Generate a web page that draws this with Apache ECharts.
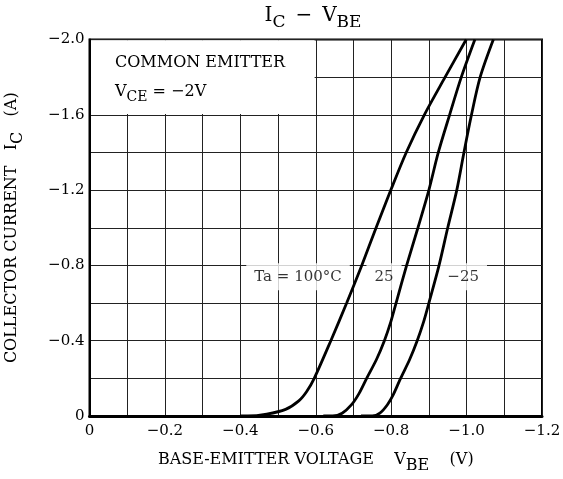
<!DOCTYPE html>
<html>
<head>
<meta charset="utf-8">
<title>IC - VBE</title>
<script src="https://cdn.jsdelivr.net/npm/echarts@6/dist/echarts.min.js"></script>
<style>
html, body { margin: 0; padding: 0; background: #fff; }
#main { width: 563px; height: 479px; }
</style>
</head>
<body>
<div id="main"></div>
<script>
// VBE (V), IC (A)
var curve100 = [[-0.40, 0], [-0.42, 0], [-0.47, -0.01], [-0.52, -0.035], [-0.555, -0.08], [-0.576, -0.13],
	[-0.596, -0.2], [-0.64, -0.4], [-0.682, -0.6], [-0.722, -0.8], [-0.76, -1.0], [-0.799, -1.2],
	[-0.84, -1.4], [-0.888, -1.6], [-0.943, -1.8], [-0.999, -2.0]];
var curve25 = [[-0.62, 0], [-0.645, 0], [-0.67, -0.015], [-0.695, -0.06], [-0.715, -0.12], [-0.735, -0.2],
	[-0.761, -0.3], [-0.782, -0.4], [-0.799, -0.5], [-0.813, -0.6], [-0.841, -0.8], [-0.871, -1.0],
	[-0.90, -1.2], [-0.925, -1.4], [-0.955, -1.6], [-0.986, -1.8], [-1.022, -2.0]];
var curveM25 = [[-0.72, 0], [-0.75, 0], [-0.77, -0.015], [-0.79, -0.06], [-0.806, -0.115], [-0.825, -0.2],
	[-0.849, -0.3], [-0.869, -0.4], [-0.886, -0.5], [-0.9, -0.6], [-0.927, -0.8], [-0.95, -1.0],
	[-0.974, -1.2], [-0.993, -1.4], [-1.013, -1.6], [-1.036, -1.8], [-1.071, -2.0]];

var curveLabels = ['Ta = 100°C', '25', '−25'];
var curveLabelPos = [[-0.553, -0.74], [-0.781, -0.74], [-0.991, -0.74]];

var FONT = 'DejaVu Serif';

function fmtNum(v, step) {
	var r = Math.round(v * 10);
	if (r % step) return '';
	if (r === 0) return '0';
	return '−' + Math.abs(r / 10).toFixed(1);
}

var myChart = echarts.init(document.getElementById('main'));

function curve(data) {
	return {
		type: 'line',
		data: data,
		smooth: 0.3,
		symbol: 'none',
		z: 4,
		lineStyle: { color: '#000', width: 2.8 }
	};
}

myChart.setOption({
	animation: false,
	backgroundColor: '#fff',
	textStyle: { fontFamily: FONT, color: '#000' },
	grid: {
		left: 89.5,
		right: 21,
		top: 39.5,
		bottom: 63,
		outerBoundsMode: 'none',
		containLabel: false,
		show: true,
		borderColor: '#000',
		borderWidth: 2,
		backgroundColor: 'transparent'
	},
	graphic: [
		{
			type: 'text',
			x: 313,
			y: 6,
			z: 10,
			style: {
				text: '{m|I}{s|C}   {m|−}   {m|V}{s|BE}',
				align: 'center',
				rich: {
					m: { fontFamily: FONT, fontSize: 20, color: '#000', verticalAlign: 'top' },
					s: { fontFamily: FONT, fontSize: 17, color: '#000', padding: [8, 0, 0, 0] }
				}
			}
		},
		{
			type: 'text',
			x: 115,
			y: 55,
			z: 10,
			style: { text: 'COMMON EMITTER', fontFamily: FONT, fontSize: 16, fill: '#000' }
		},
		{
			type: 'text',
			x: 115,
			y: 84,
			z: 10,
			style: {
				text: '{m|V}{s|CE}{m| = −2V}',
				rich: {
					m: { fontFamily: FONT, fontSize: 16, color: '#000', verticalAlign: 'top' },
					s: { fontFamily: FONT, fontSize: 14, color: '#000', padding: [6, 0, 0, 0] }
				}
			}
		}
	],
	xAxis: {
		type: 'value',
		min: -1.2,
		max: 0,
		interval: 0.1,
		inverse: true,
		name: '{t|BASE-EMITTER VOLTAGE    V}{s|BE}{t|    (V)}',
		nameLocation: 'middle',
		nameGap: 36,
		nameTextStyle: {
			rich: {
				t: { fontFamily: FONT, fontSize: 16, color: '#000', verticalAlign: 'top' },
				s: { fontFamily: FONT, fontSize: 16, color: '#000', padding: [6, 0, 0, 0] }
			}
		},
		axisLine: { show: true, lineStyle: { color: '#000', width: 3 } },
		axisTick: { show: false },
		axisLabel: {
			margin: 8,
			fontFamily: FONT,
			fontSize: 15,
			color: '#000',
			formatter: function (v) { return fmtNum(v, 2); }
		},
		splitLine: { show: true, lineStyle: { color: '#222', width: 1 } }
	},
	yAxis: {
		type: 'value',
		min: -2.0,
		max: 0,
		interval: 0.2,
		inverse: true,
		name: '{t|COLLECTOR CURRENT   I}{s|C}{t|   (A)}',
		nameLocation: 'middle',
		nameGap: 64,
		nameRotate: 90,
		nameTextStyle: {
			rich: {
				t: { fontFamily: FONT, fontSize: 16, color: '#000', verticalAlign: 'top' },
				s: { fontFamily: FONT, fontSize: 16, color: '#000', padding: [6, 0, 0, 0] }
			}
		},
		axisLine: { show: true, lineStyle: { color: '#000', width: 2 } },
		axisTick: { show: false },
		axisLabel: {
			margin: 5,
			fontFamily: FONT,
			fontSize: 15,
			color: '#000',
			formatter: function (v) { return fmtNum(v, 4); }
		},
		splitLine: { show: true, lineStyle: { color: '#222', width: 1 } }
	},
	series: [
		{
			type: 'scatter',
			data: curveLabelPos,
			symbolSize: 0,
			z: 2,
			silent: true,
			label: {
				show: true,
				position: 'inside',
				fontFamily: FONT,
				fontSize: 15,
				color: '#000',
				backgroundColor: '#fff',
				padding: [6, 8],
				formatter: function (p) { return curveLabels[p.dataIndex]; }
			},
			markArea: {
				silent: true,
				itemStyle: { color: '#fff' },
				data: [[{ coord: [-0.004, -1.996] }, { coord: [-0.597, -1.604] }]]
			}
		},
		curve(curve100),
		curve(curve25),
		curve(curveM25)
	]
});
</script>
</body>
</html>
